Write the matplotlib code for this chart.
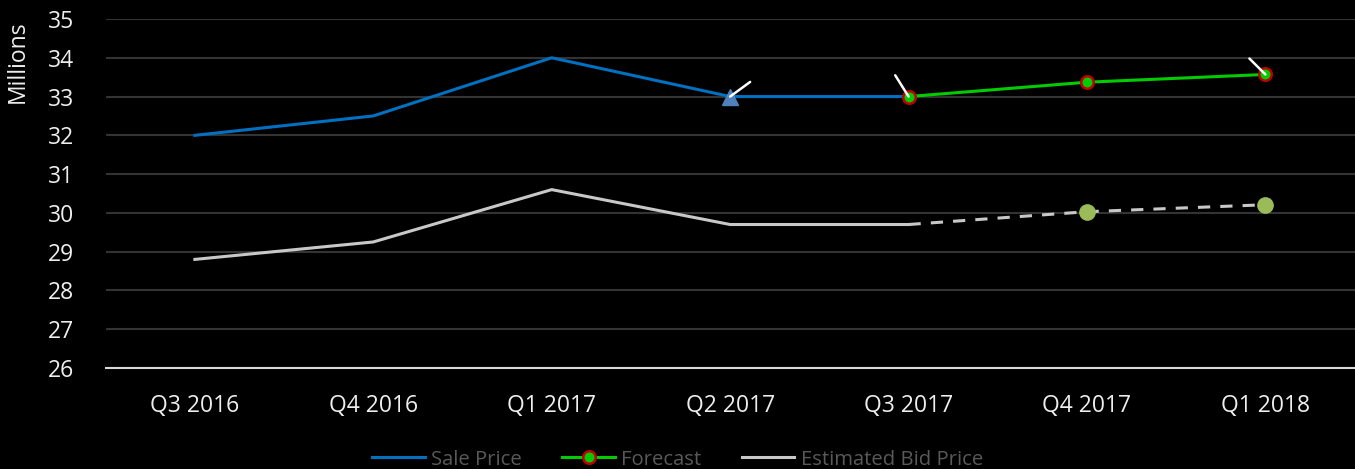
import numpy as np
import matplotlib.pyplot as plt

quarters = ["Q3 2016", "Q4 2016", "Q1 2017", "Q2 2017", "Q3 2017", "Q4 2017", "Q1 2018"]
sale_price = [32.0, 32.5, 34.0, 33.0, 33.0, np.nan, np.nan]
forecast = [np.nan, np.nan, np.nan, np.nan, 33.0, 33.37, 33.57]
bid_price = [28.8, 29.25, 30.6, 29.7, 29.7, np.nan, np.nan]
bid_forecast = [np.nan, np.nan, np.nan, np.nan, 29.7, 30.03, 30.21]

plt.rcParams['font.family'] = ['Open Sans', 'DejaVu Sans']

fig = plt.figure(figsize=(13.55, 4.69), dpi=100, facecolor='black')
ax = fig.add_axes([0.078, 0.2154, 0.9217, 0.7441], facecolor='black')

x = np.arange(len(quarters))

ax.plot(x, bid_price, color='#c8c8c8', lw=2.2, label='Estimated Bid Price')
ax.plot(x, bid_forecast, color='#c8c8c8', lw=2.2, ls=(0, (4, 3.3)))
ax.plot(x[5:], bid_forecast[5:], 'o', color='#9bbb59', ms=11, mec='#9bbb59')

ax.plot(x, sale_price, color='#0070c0', lw=2.2, label='Sale Price')
ax.plot(x[3], sale_price[3], '^', color='#4f81bd', ms=12)
ax.plot(x, forecast, color='#00cc00', lw=2.2, marker='o', ms=9,
        mfc='#00cc00', mec='#c00000', mew=1.8, label='Forecast')

# data label leader lines
for xi, yi, dx, dy in [(3, 33.0, 15, 11), (4, 33.0, -10, 16), (6, forecast[6], -12, 12)]:
    ax.annotate('', xy=(xi, yi), xytext=(xi + dx / 178.0 * 1.33, yi + dy / 38.8 * 1.33),
                arrowprops=dict(arrowstyle='-', color='white', lw=1.8, shrinkA=0, shrinkB=0))

ax.set_xlim(-0.5, 6.5)
ax.set_ylim(26, 35)
ax.set_yticks(range(26, 36))
ax.set_xticks(x)
ax.set_xticklabels(quarters)
ax.grid(axis='y', color='#333333', lw=1.5)
ax.set_axisbelow(True)
for s in ['top', 'right', 'left']:
    ax.spines[s].set_visible(False)
ax.spines['bottom'].set_color('#d9d9d9')
ax.spines['bottom'].set_linewidth(1.5)
ax.tick_params(length=0, colors='#eeeeee', labelsize=16.5)
ax.tick_params(axis='y', pad=23)
ax.tick_params(axis='x', pad=19)
ax.set_ylabel('Millions', color='#eeeeee', fontsize=16.5)
ax.yaxis.set_label_coords(-0.061, 0.877)

handles, labels = ax.get_legend_handles_labels()
order = [1, 2, 0]
leg = fig.legend([handles[i] for i in order], [labels[i] for i in order],
                 loc='lower center', bbox_to_anchor=(0.5, -0.04), ncol=3, frameon=False,
                 fontsize=14.6, handlelength=2.6, columnspacing=2.0, handletextpad=0.3)
for t in leg.get_texts():
    t.set_color('#595959')

fig.savefig('out.png', dpi=100, facecolor='black')
